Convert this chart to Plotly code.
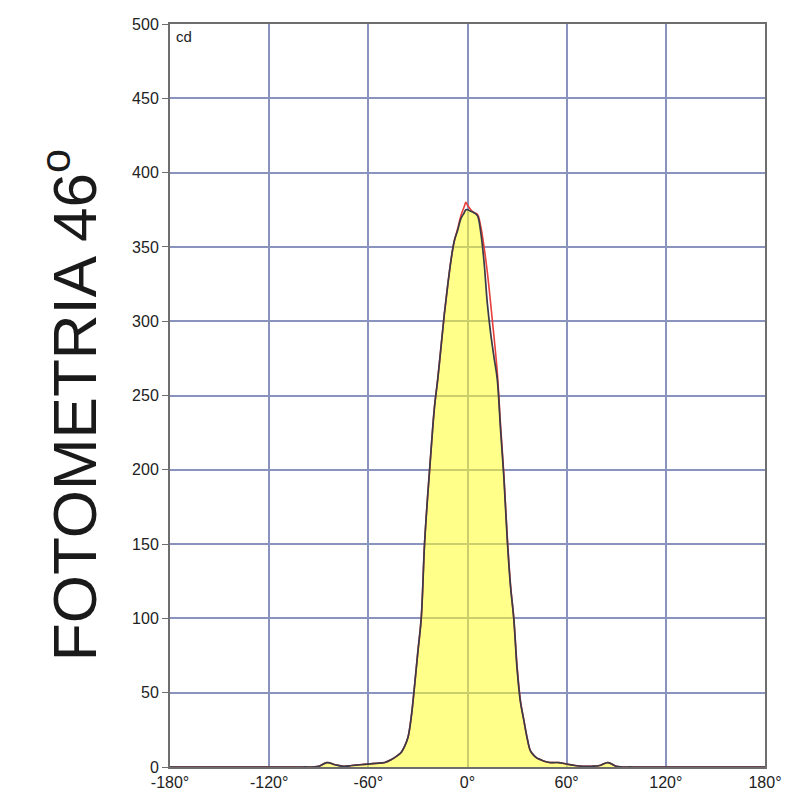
import plotly.graph_objects as go

# angle (deg) and luminous intensity (cd)
angles = [-180, -150, -120, -100, -90, -85, -80, -75, -70, -65, -60, -55, -50, -46, -42,
          -40, -38, -36, -34, -32, -30, -28, -26, -24, -22, -20, -18, -16, -14, -12, -10,
          -8, -6, -4, -2, -1, 0, 2, 4, 6, 8, 10, 12, 14, 16, 18, 20, 22, 24, 26, 28, 30,
          32, 34, 36, 38, 40, 42, 44, 46, 50, 55, 60, 65, 70, 75, 80, 85, 90, 100, 120,
          150, 180]

cd_c0 = [0, 0, 0, 0, 0.5, 3, 1.5, 0.5, 1, 1.5, 2, 2.5, 3, 5, 8,
         10, 14, 20, 34, 55, 78, 100, 150, 184, 214, 242, 261, 283, 305, 324, 341,
         354, 362, 371, 377, 380, 378, 375, 373, 372, 364, 350, 333, 312, 290, 266, 230,
         197, 156, 123, 100, 68, 45, 32, 20, 11, 8, 6, 5, 4, 3, 3, 2, 1, 0.5, 0.5, 1, 3,
         0.5, 0, 0, 0, 0]

cd_c90 = [0, 0, 0, 0, 0.5, 3, 1.5, 0.5, 1, 1.5, 2, 2.5, 3, 5, 8,
          10, 14, 20, 34, 55, 78, 100, 150, 184, 214, 242, 261, 283, 305, 324, 341,
          354, 361, 369, 373, 375, 375, 374, 373, 371, 360, 340, 312, 292, 276, 261, 227,
          195, 154, 122, 100, 66, 44, 32, 20, 11, 8, 6, 5, 4, 3, 3, 2, 1, 0.5, 0.5, 1, 3,
          0.5, 0, 0, 0, 0]

x_ticks = [-180, -120, -60, 0, 60, 120, 180]
x_labels = ['-180°', '-120°', '-60°', '0°', '60°', '120°', '180°']
y_ticks = [0, 50, 100, 150, 200, 250, 300, 350, 400, 450, 500]

fig = go.Figure()
fig.add_trace(go.Scatter(x=angles, y=cd_c90, mode='lines', fill='tozeroy',
                         fillcolor='rgba(255,255,40,0.55)', line=dict(width=0),
                         hoverinfo='skip', showlegend=False))
fig.add_trace(go.Scatter(x=angles, y=cd_c0, mode='lines', line_shape='spline',
                         line=dict(color='#e8403a', width=1.6), showlegend=False))
fig.add_trace(go.Scatter(x=angles, y=cd_c90, mode='lines', line_shape='spline',
                         line=dict(color='#3a3a48', width=1.7), showlegend=False))

fig.update_layout(
    width=800, height=800,
    margin=dict(l=162, r=43, t=16, b=41, autoexpand=False),
    paper_bgcolor='white', plot_bgcolor='white',
    font=dict(family='Liberation Sans, Arial, sans-serif', color='#222222'),
    showlegend=False,
)
fig.update_xaxes(range=[-180, 180], tickvals=x_ticks, ticktext=x_labels,
                 showgrid=True, gridcolor='#8a93bd', gridwidth=1.5,
                 showline=True, linecolor='#6e6e6e', linewidth=2, mirror=True,
                 ticks='', tickfont=dict(size=16), zeroline=False, automargin=False)
fig.update_yaxes(range=[0, 500], tickvals=y_ticks,
                 showgrid=True, gridcolor='#8a93bd', gridwidth=1.5,
                 showline=True, linecolor='#6e6e6e', linewidth=2, mirror=True,
                 ticks='outside', ticklen=6, tickcolor='#6e6e6e',
                 tickfont=dict(size=16), zeroline=False, automargin=False)

fig.add_annotation(text='cd', xref='paper', yref='paper', x=0.006, y=0.997,
                   xanchor='left', yanchor='top', showarrow=False,
                   font=dict(size=15, color='#222222'))
fig.add_annotation(text='FOTOMETRIA 46<sup>o</sup>', xref='paper', yref='paper',
                   x=-0.168, y=0.487, xanchor='center', yanchor='middle',
                   textangle=-90, showarrow=False,
                   font=dict(size=62, color='#1a1a1a'))

fig.write_html("out.html")
